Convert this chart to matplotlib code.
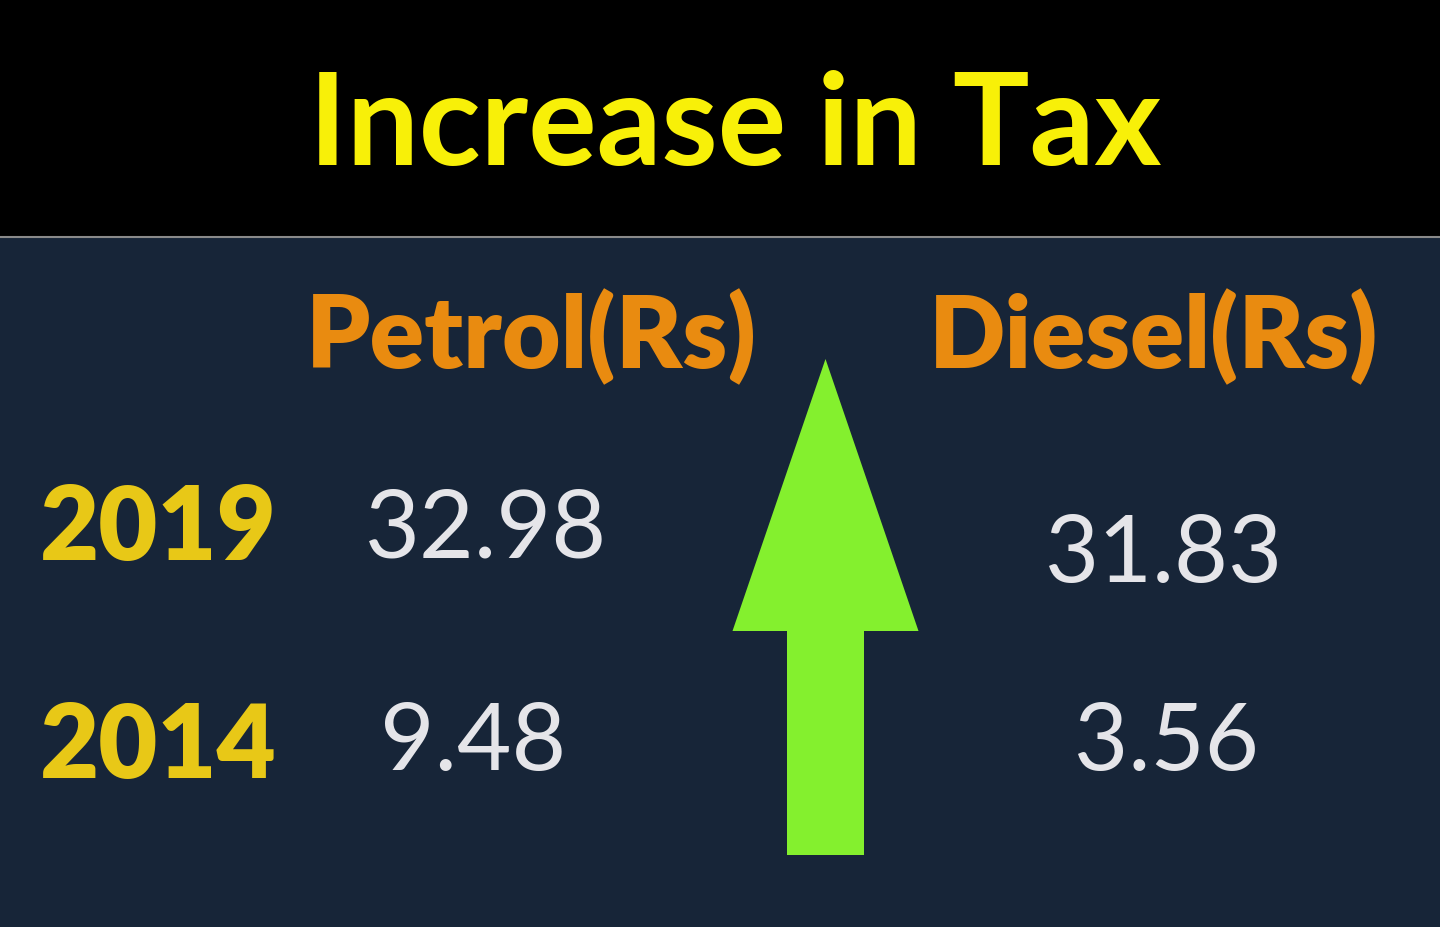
import matplotlib
matplotlib.use("Agg")
import matplotlib.pyplot as plt
from matplotlib.patches import FancyArrow, Rectangle

title = "Increase in Tax"
fuels = ["Petrol(Rs)", "Diesel(Rs)"]
years = ["2019", "2014"]
petrol_tax = [32.98, 9.48]
diesel_tax = [31.83, 3.56]

W, H = 1440, 928
BG = "#172538"
TITLE_COL = "#f8f008"
HEAD_COL = "#e98b10"
YEAR_COL = "#e8c817"
NUM_COL = "#e5e5e9"
ARROW_COL = "#84f02e"
FONT = "Lato"

fig = plt.figure(figsize=(W / 100, H / 100), dpi=100)
ax = fig.add_axes([0, 0, 1, 1])
ax.set_xlim(0, W)
ax.set_ylim(H, 0)
ax.axis("off")
fig.patch.set_facecolor(BG)

# black header band and thin grey rule
ax.add_patch(Rectangle((0, 0), W, 237, color="black", zorder=0))
ax.axhline(238, color="#8a8a8a", lw=1.5, zorder=1)

renderer = fig.canvas.get_renderer()


def put(txt, x0, x1, base, cap, color, weight, size=60):
    # size from a blend of width fit (x0..x1) and cap-height fit, centred on span
    t = ax.text((x0 + x1) / 2, base, txt, color=color, fontsize=size,
                fontweight=weight, family=FONT, ha="center", va="baseline",
                zorder=3)
    w = t.get_window_extent(renderer).width
    cap_px = 0.72 * size * 100 / 72  # Lato cap height ~0.72 em
    f_w = (x1 - x0) / w
    f_h = cap / cap_px
    t.set_fontsize(size * (f_w * f_h) ** 0.5)
    return t


put(title, 298, 1172, 165, 90, TITLE_COL, "bold")
put(fuels[0], 283, 780, 368, 66, HEAD_COL, "heavy")
put(fuels[1], 907, 1400, 368, 66, HEAD_COL, "heavy")

year_base = [560, 778]
petrol_spans = [(370, 603, 558, 71), (383, 563, 770, 70)]
diesel_spans = [(1050, 1278, 582, 70), (1077, 1255, 770, 70)]
for i, yr in enumerate(years):
    put(yr, 34, 283, year_base[i], 70, YEAR_COL, "heavy")
    a, b, base, cap = petrol_spans[i]
    put(f"{petrol_tax[i]:.2f}", a, b, base, cap, NUM_COL, "normal")
    a, b, base, cap = diesel_spans[i]
    put(f"{diesel_tax[i]:.2f}", a, b, base, cap, NUM_COL, "normal")

# big green "up" arrow between the columns
ax.add_patch(FancyArrow(825.5, 856, 0, -496, width=77, head_width=186,
                        head_length=272, length_includes_head=True,
                        color=ARROW_COL, lw=0, zorder=2))

fig.savefig("out.png", dpi=100, facecolor=BG)
